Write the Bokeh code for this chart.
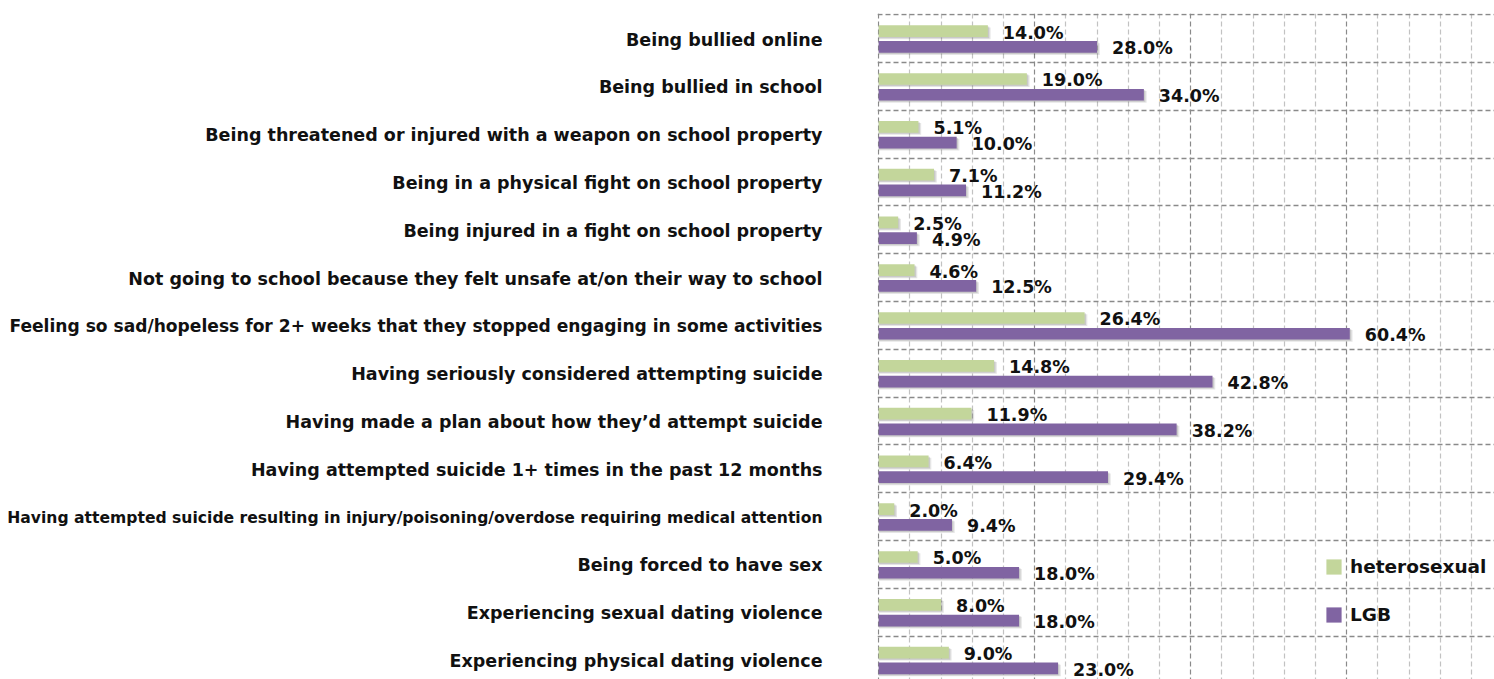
from bokeh.plotting import figure
from bokeh.models import (ColumnDataSource, Range1d, Grid, FixedTicker, Legend, LegendItem)
from bokeh.layouts import row
from bokeh.transform import dodge
from bokeh.core.properties import value
from bokeh.embed import file_html
from bokeh.resources import INLINE

categories = [
    "Being bullied online",
    "Being bullied in school",
    "Being threatened or injured with a weapon on school property",
    "Being in a physical fight on school property",
    "Being injured in a fight on school property",
    "Not going to school because they felt unsafe at/on their way to school",
    "Feeling so sad/hopeless for 2+ weeks that they stopped engaging in some activities",
    "Having seriously considered attempting suicide",
    "Having made a plan about how they\u2019d attempt suicide",
    "Having attempted suicide 1+ times in the past 12 months",
    "Having attempted suicide resulting in injury/poisoning/overdose requiring medical attention",
    "Being forced to have sex",
    "Experiencing sexual dating violence",
    "Experiencing physical dating violence",
]
heterosexual = [14.0, 19.0, 5.1, 7.1, 2.5, 4.6, 26.4, 14.8, 11.9, 6.4, 2.0, 5.0, 8.0, 9.0]
lgb = [28.0, 34.0, 10.0, 11.2, 4.9, 12.5, 60.4, 42.8, 38.2, 29.4, 9.4, 18.0, 18.0, 23.0]
major_ticks = [0, 20, 40, 60, 80]
minor_ticks = [4, 8, 12, 16, 24, 28, 32, 36, 44, 48, 52, 56, 64, 68, 72, 76]

GREEN = "#C3D69B"
PURPLE = "#8064A2"
FONT = "DejaVu Sans"


def label_size(c):
    if len(c) > 85:
        return "15.6px"
    if len(c) > 80:
        return "17.1px"
    return "17.5px"


n = len(categories)
ypos = [i + 0.5 for i in range(n)]
src = ColumnDataSource(dict(
    cat=categories, y=ypos, hetero=heterosexual, lgb=lgb,
    hlab=[f"{v:.1f}%" for v in heterosexual],
    llab=[f"{v:.1f}%" for v in lgb],
    size=[label_size(c) for c in categories],
))

H = 679
TOP = 13
ROW_PX = 47.8
PX_PER = 7.8
rows_visible = (H - TOP) / ROW_PX
y_range = Range1d(start=rows_visible - 0.025, end=-0.025)

# ---- left label panel ----
left = figure(width=877, height=H, x_range=Range1d(0, 1), y_range=y_range,
              x_axis_location=None, y_axis_location=None, toolbar_location=None,
              output_backend="svg", min_border_left=0, min_border_right=0,
              min_border_top=TOP, min_border_bottom=0, outline_line_color=None)
left.grid.visible = False
left.text(x=1, y="y", text="cat", source=src, x_offset=-55, y_offset=1,
          text_align="right", text_baseline="middle", text_font=value(FONT),
          text_font_style="bold", text_font_size="size", text_color="#111111")

# ---- main bar panel ----
W = 1494 - 877
p = figure(width=W, height=H, x_range=Range1d(-0.15, W / PX_PER - 0.15), y_range=y_range,
           x_axis_location=None, y_axis_location=None, toolbar_location=None,
           output_backend="svg", min_border_left=0, min_border_right=0,
           min_border_top=TOP, min_border_bottom=0, outline_line_color=None)
p.grid.visible = False

xg = Grid(dimension=0, ticker=FixedTicker(ticks=major_ticks, minor_ticks=minor_ticks),
          grid_line_color="#8a8a8a", grid_line_dash="5 3", grid_line_width=1.2,
          minor_grid_line_color="#c2c2c2", minor_grid_line_dash="5 3", minor_grid_line_width=1.2)
yg = Grid(dimension=1, ticker=FixedTicker(ticks=list(range(n))),
          grid_line_color="#8a8a8a", grid_line_dash="5 3", grid_line_width=1.3)
p.add_layout(xg)
p.add_layout(yg)

BH = 0.245
GOFF = -0.155
POFF = 0.175

# soft shadows
for dx, dy, a in [(0.35, 0.045, 0.10), (0.18, 0.025, 0.12)]:
    p.hbar(y=dodge("y", GOFF + dy, range=p.y_range), left=0, right=dodge("hetero", dx, range=p.x_range),
           height=BH, source=src, fill_color="black", fill_alpha=a, line_color=None)
    p.hbar(y=dodge("y", POFF + dy, range=p.y_range), left=0, right=dodge("lgb", dx, range=p.x_range),
           height=BH, source=src, fill_color="black", fill_alpha=a, line_color=None)

rg = p.hbar(y=dodge("y", GOFF, range=p.y_range), left=0, right="hetero", height=BH,
            source=src, fill_color=GREEN, line_color=None)
rp = p.hbar(y=dodge("y", POFF, range=p.y_range), left=0, right="lgb", height=BH,
            source=src, fill_color=PURPLE, line_color=None)

p.text(x="hetero", y=dodge("y", GOFF, range=p.y_range), text="hlab", source=src,
       x_offset=15, y_offset=1.5, text_align="left", text_baseline="middle",
       text_font=value(FONT), text_font_style="bold", text_font_size="17.5px", text_color="#111111")
p.text(x="lgb", y=dodge("y", POFF, range=p.y_range), text="llab", source=src,
       x_offset=15, y_offset=1.5, text_align="left", text_baseline="middle",
       text_font=value(FONT), text_font_style="bold", text_font_size="17.5px", text_color="#111111")

legend = Legend(items=[LegendItem(label="heterosexual", renderers=[rg]),
                       LegendItem(label="LGB", renderers=[rp])],
                location=(447, 54), orientation="vertical",
                glyph_width=19, glyph_height=19, label_height=20, spacing=27,
                label_standoff=7, padding=0, margin=0,
                border_line_color=None, background_fill_alpha=0,
                label_text_font=FONT, label_text_font_style="bold",
                label_text_font_size="18.5px", label_text_color="#111111")
p.add_layout(legend)

layout = row(left, p, spacing=0)
open("out.html", "w").write(file_html(layout, INLINE))
